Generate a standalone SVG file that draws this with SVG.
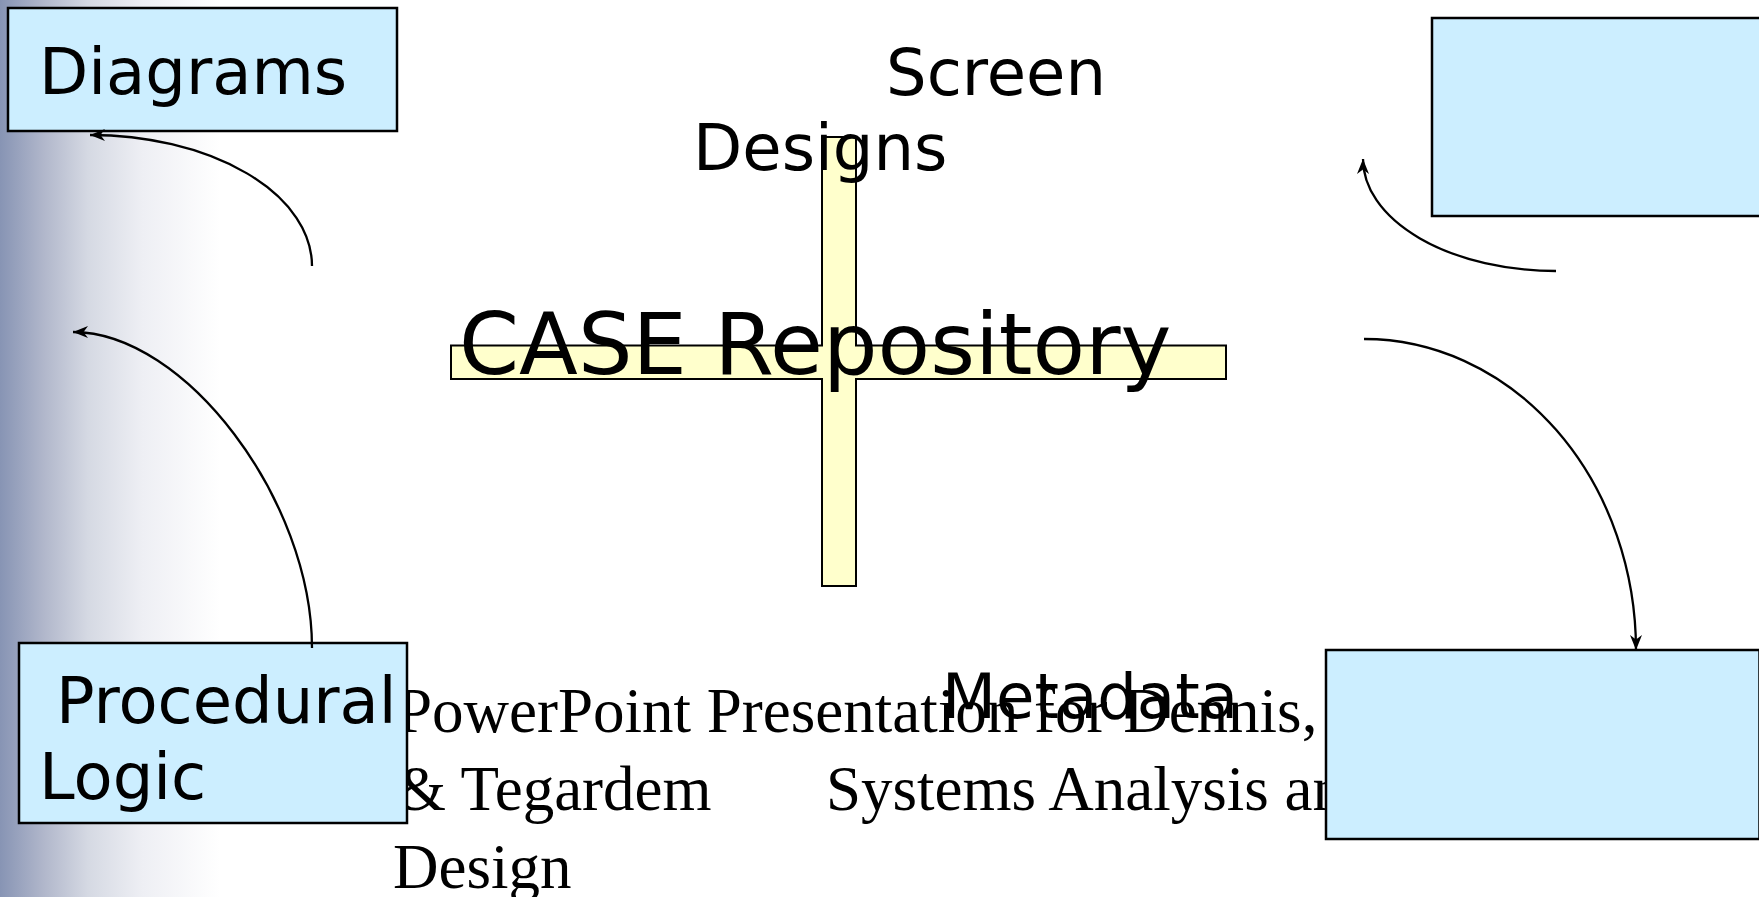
<svg xmlns="http://www.w3.org/2000/svg" width="1759" height="897" viewBox="0 0 1759 897">
<defs>
<linearGradient id="bg" x1="0" y1="0" x2="220" y2="0" gradientUnits="userSpaceOnUse">
<stop offset="0" stop-color="#8794b4"/>
<stop offset="0.2" stop-color="#b1b7cb"/>
<stop offset="0.4" stop-color="#d5d9e3"/>
<stop offset="0.65" stop-color="#eeeff4"/>
<stop offset="1" stop-color="#ffffff"/>
</linearGradient>
<marker id="arr" markerUnits="userSpaceOnUse" markerWidth="20" markerHeight="16" viewBox="-16 -8 18 16" refX="0" refY="0" orient="auto">
<path d="M0,0 L-15,-6 L-10.5,0 L-15,6 Z" fill="#000"/>
</marker>
<style>
.box{fill:#cceeff;stroke:#000;stroke-width:2.5}
.sans{font-family:"DejaVu Sans","Liberation Sans",sans-serif;fill:#000}
.serif{font-family:"Liberation Serif","Times New Roman",serif;font-size:63px;fill:#000}
.lbl{font-size:64px}
.conn{fill:none;stroke:#000;stroke-width:2.3;marker-end:url(#arr)}
</style>
</defs>
<rect x="0" y="0" width="1759" height="897" fill="#ffffff"/>
<rect x="0" y="0" width="220" height="897" fill="url(#bg)"/>

<g id="footer">
<text class="serif" x="397" y="732">PowerPoint Presentation for Dennis, Wixom</text>
<text class="serif" x="397" y="810">&amp; Tegardem</text>
<text class="serif" x="826" y="810">Systems Analysis and</text>
<text class="serif" x="393" y="888">Design</text>
</g>

<g id="case-repository">
<path d="M822,137 H856 V345.5 H1226 V379 H856 V586 H822 V379 H451 V345.5 H822 Z" fill="#ffffcc" stroke="#000" stroke-width="2"/>
<text class="sans" x="459" y="374" font-size="86">CASE Repository</text>
</g>

<g id="screen-designs">
<text class="sans lbl" x="886" y="95">Screen</text>
<text class="sans lbl" x="693" y="170">Designs</text>
</g>

<g id="metadata">
<text class="sans" x="942" y="718" font-size="62.5">Metadata</text>
</g>

<g id="diagrams">
<rect class="box" x="8" y="8" width="389" height="123"/>
<text class="sans lbl" x="39" y="94">Diagrams</text>
</g>

<g id="procedural-logic">
<rect class="box" x="19" y="643" width="388" height="180"/>
<text class="sans lbl" x="56" y="723">Procedural</text>
<text class="sans lbl" x="39" y="799">Logic</text>
</g>

<g id="top-right-box">
<rect class="box" x="1432" y="18" width="400" height="198"/>
</g>

<g id="bottom-right-box">
<rect class="box" x="1326" y="650" width="433.5" height="189"/>
</g>

<g id="connectors">
<path class="conn" d="M312,266 A222,131 0 0 0 90,135"/>
<path class="conn" d="M312,648 C312,500 185,332 73,332"/>
<path class="conn" d="M1556,271 A193,112 0 0 1 1363,159"/>
<path class="conn" d="M1364,339 A272,311 0 0 1 1636,650"/>
</g>
</svg>
